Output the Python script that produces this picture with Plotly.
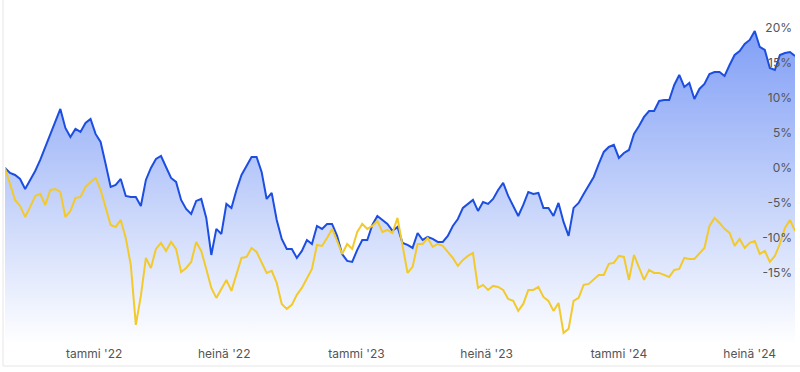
import pandas as pd
import plotly.graph_objects as go

# Weekly observations, first week starting 2021-08-30
start_date = "2021-08-30"
n_weeks = 158

fund = [0, -0.71, -1.0, -1.57, -3.0, -1.71, -0.43, 1.14, 3.0, 4.71,
        6.57, 8.43, 5.71, 4.43, 5.57, 5.14, 6.43, 7.0, 4.86, 3.71,
        0.57, -2.71, -2.43, -1.57, -4.0, -4.14, -4.14, -5.43, -1.71, 0.0,
        1.29, 1.71, 0.14, -1.43, -2.0, -4.57, -5.86, -6.57, -4.71, -4.43,
        -7.14, -12.43, -8.71, -9.43, -5.14, -5.71, -3.14, -1.0, 0.29, 1.57,
        1.57, -0.57, -4.43, -3.57, -7.43, -10.14, -11.57, -11.57, -12.86, -11.86,
        -10.29, -10.86, -8.29, -8.71, -8.0, -8.0, -9.71, -12.29, -13.29, -13.43,
        -11.71, -10.29, -10.29, -8.14, -6.86, -7.43, -8.0, -9.0, -8.43, -10.71,
        -11.0, -11.43, -9.29, -10.29, -9.86, -10.14, -10.57, -10.57, -9.71, -8.29,
        -7.29, -5.71, -5.14, -4.57, -6.14, -4.86, -5.14, -4.43, -3.14, -2.14,
        -4.0, -5.43, -6.86, -5.29, -3.43, -3.71, -3.57, -5.71, -5.71, -6.86,
        -5.0, -7.71, -9.71, -5.71, -5.0, -3.71, -2.57, -1.29, 0.57, 2.29,
        3.0, 3.29, 1.43, 2.14, 2.57, 4.86, 6.0, 7.29, 8.14, 8.14,
        9.57, 9.71, 9.71, 11.86, 13.29, 11.57, 12.14, 9.86, 11.29, 12.0,
        13.43, 13.71, 13.71, 13.14, 14.71, 16.14, 16.71, 17.71, 18.29, 19.57,
        17.29, 16.86, 14.29, 14.0, 16.14, 16.43, 16.57, 16.0]

benchmark = [0, -2.29, -4.57, -5.43, -7.0, -5.57, -4.0, -3.71, -5.29, -3.14,
             -3.0, -3.43, -7.0, -6.14, -4.29, -4.14, -2.71, -2.0, -1.43, -3.14,
             -5.71, -8.14, -8.43, -7.43, -10.0, -13.86, -22.43, -18.29, -12.86, -14.29,
             -11.57, -10.71, -11.86, -10.57, -11.57, -14.86, -14.29, -13.43, -10.57, -11.86,
             -14.43, -17.14, -18.57, -17.29, -16.0, -17.57, -15.14, -12.86, -12.71, -11.43,
             -12.0, -13.57, -15.0, -14.71, -16.43, -19.43, -20.14, -19.57, -18.14, -17.14,
             -15.86, -14.43, -11.0, -11.14, -10.0, -8.71, -10.43, -12.29, -10.86, -11.57,
             -9.14, -8.0, -8.71, -8.29, -7.57, -9.14, -8.86, -9.29, -7.14, -11.0,
             -15.0, -14.14, -10.86, -10.86, -10.0, -11.29, -10.86, -11.14, -12.0, -12.86,
             -14.0, -13.14, -12.57, -12.14, -17.14, -16.71, -17.43, -16.86, -17.0, -17.43,
             -18.71, -19.0, -20.43, -19.43, -17.43, -17.43, -17.0, -18.43, -19.0, -20.43,
             -19.29, -23.57, -23.0, -19.0, -18.57, -16.71, -16.57, -15.86, -15.29, -15.29,
             -13.71, -13.57, -12.57, -12.71, -16.0, -12.43, -14.29, -16.0, -14.57, -15.0,
             -15.0, -15.29, -15.57, -14.57, -14.43, -12.86, -13.0, -13.0, -12.29, -11.43,
             -8.29, -7.14, -7.86, -8.71, -9.29, -11.14, -10.14, -11.43, -10.71, -10.43,
             -12.29, -11.86, -13.43, -12.57, -10.86, -8.57, -7.43, -9.0]

x_tick_dates = ["2022-01-01", "2022-07-01", "2023-01-01", "2023-07-01", "2024-01-01", "2024-07-01"]
x_tick_labels = ["tammi '22", "heinä '22", "tammi '23", "heinä '23", "tammi '24", "heinä '24"]
y_tick_vals = [20, 15, 10, 5, 0, -5, -10, -15]
y_tick_labels = ["20%", "15%", "10%", "5%", "0%", "-5%", "-10%", "-15%"]

dates = pd.date_range(start_date, periods=n_weeks, freq="7D")
y_min, y_max = -25.3, 24.0

fig = go.Figure()
# invisible baseline at the bottom of the plot for the area fill
fig.add_trace(go.Scatter(x=dates, y=[y_min] * n_weeks, mode="lines",
                         line=dict(width=0), hoverinfo="skip", showlegend=False))
fig.add_trace(go.Scatter(
    x=dates, y=fund, mode="lines", fill="tonexty",
    line=dict(color="rgb(28,78,225)", width=2),
    fillgradient=dict(type="vertical",
                      colorscale=[[0, "rgba(255,255,255,1)"], [1, "rgba(125,156,245,1)"]],
                      start=y_min, stop=21),
    showlegend=False))
fig.add_trace(go.Scatter(
    x=dates, y=benchmark, mode="lines",
    line=dict(color="rgb(242,202,44)", width=2),
    showlegend=False))

fig.update_layout(
    width=800, height=372,
    margin=dict(l=5, r=5, t=0, b=27),
    paper_bgcolor="white", plot_bgcolor="white",
    font=dict(family="Inter, Roboto, sans-serif", size=12, color="#555555"),
    xaxis=dict(range=[dates[0], dates[-1]], tickvals=x_tick_dates, ticktext=x_tick_labels,
               showgrid=False, zeroline=False, showline=False, ticks="",
               tickfont=dict(size=12, color="#555555")),
    yaxis=dict(range=[y_min, y_max], side="right", ticklabelposition="inside",
               tickvals=y_tick_vals, ticktext=y_tick_labels,
               showgrid=False, zeroline=False, showline=False, ticks="",
               tickfont=dict(size=12, color="#555555")),
    shapes=[
        dict(type="line", xref="paper", yref="paper", x0=-0.0025, x1=-0.0025, y0=-0.061, y1=1,
             line=dict(color="#e6e6e6", width=1)),
        dict(type="line", xref="paper", yref="paper", x0=-0.0025, x1=1.01, y0=-0.061, y1=-0.061,
             line=dict(color="#e6e6e6", width=1)),
    ],
)

fig.write_html("out.html",
               config={"displayModeBar": False},
               post_script="document.body.style.margin='0';document.body.style.padding='0';"
                           "document.body.style.overflow='hidden';")
